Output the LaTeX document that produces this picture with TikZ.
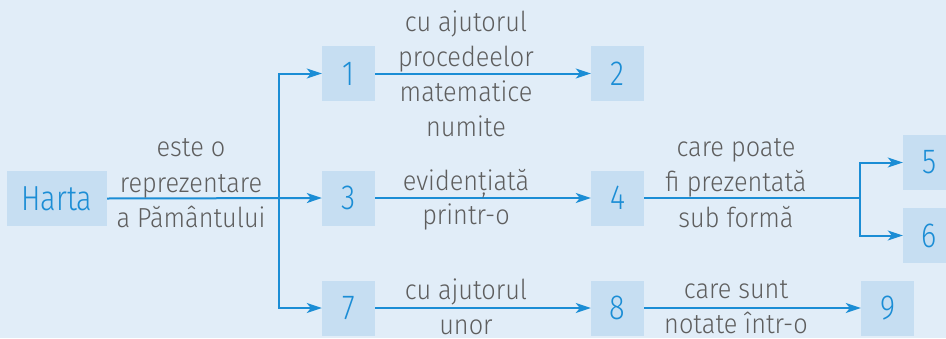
\documentclass[tikz,border=0pt]{standalone}
\usepackage{fontspec}
\setmainfont{Fira Sans Light}
\newfontfamily\grayfont{Fira Sans Light}[FakeStretch=0.92]
\newfontfamily\bluefont{Fira Sans Light}[FakeStretch=0.83]
\usetikzlibrary{arrows.meta}
\definecolor{bgc}{HTML}{E1EDF8}
\definecolor{boxc}{HTML}{C6DEF2}
\definecolor{bluec}{HTML}{1B8DD5}
\definecolor{grayc}{HTML}{5E5E5E}
\tikzset{
  box/.style={fill=boxc, text=bluec, inner sep=0pt, minimum width=53pt, minimum height=55pt,
    font=\bluefont\fontsize{34.8}{34.8}\selectfont},
  lbl/.style={text=grayc, inner sep=0pt, anchor=base, font=\grayfont\fontsize{27.5}{27.5}\selectfont},
  conn/.style={draw=bluec, line width=2pt},
  arr/.style={conn, -{Stealth[length=15pt,width=10pt,inset=4pt]}}
}
\begin{document}
\begin{tikzpicture}[x=1pt,y=-1pt]
\useasboundingbox (0,0) rectangle (946,338);
\clip (0,0) rectangle (946,338);
\fill[bgc] (0,0) rectangle (946,338);
% boxes
\node[box, minimum width=100pt] (harta) at (57,198.5) {Harta};
\node[box] (b1) at (348.5,73.5) {1};
\node[box] (b2) at (617.5,73.5) {2};
\node[box] (b3) at (348.5,198) {3};
\node[box] (b4) at (617.5,198) {4};
\node[box] (b5) at (929.5,162.5) {5};
\node[box] (b6) at (929.5,235.5) {6};
\node[box] (b7) at (348.5,308) {7};
\node[box] (b8) at (617.5,308) {8};
\node[box] (b9) at (887.5,308) {9};
% connectors
\coordinate (s1) at (279,198.5);
\coordinate (s2) at (860,198);
\draw[arr] (harta.east) -- (b3.west);
\draw[arr] (s1) |- (b1.west);
\draw[arr] (s1) |- (b7.west);
\draw[arr] (b1) -- (b2);
\draw[arr] (b3) -- (b4);
\draw[conn] (b4.east) -- (s2);
\draw[arr] (s2) |- (b5.west);
\draw[arr] (s2) |- (b6.west);
\draw[arr] (b7) -- (b8);
\draw[arr] (b8) -- (b9);
% labels
\node[lbl] (la1) at (191,156) {este o};
\node[lbl] (la2) at (191,192) {reprezentare};
\node[lbl] (la3) at (191,227) {a Pământului};
\node[lbl] (lb1) at (466,31.5) {cu ajutorul};
\node[lbl] (lb2) at (466,66.5) {procedeelor};
\node[lbl] (lb3) at (466,101.5) {matematice};
\node[lbl] (lb4) at (466,136.5) {numite};
\node[lbl] (lc1) at (466,190) {evidențiată};
\node[lbl] (lc2) at (466,224.5) {printr-o};
\node[lbl] (ld1) at (736,156) {care poate};
\node[lbl] (ld2) at (736,191) {fi prezentată};
\node[lbl] (ld3) at (736,227) {sub formă};
\node[lbl] (le1) at (466,299) {cu ajutorul};
\node[lbl] (le2) at (466,334) {unor};
\node[lbl] (lf1) at (736,298) {care sunt};
\node[lbl] (lf2) at (736,333) {notate într-o};
\end{tikzpicture}
\end{document}
